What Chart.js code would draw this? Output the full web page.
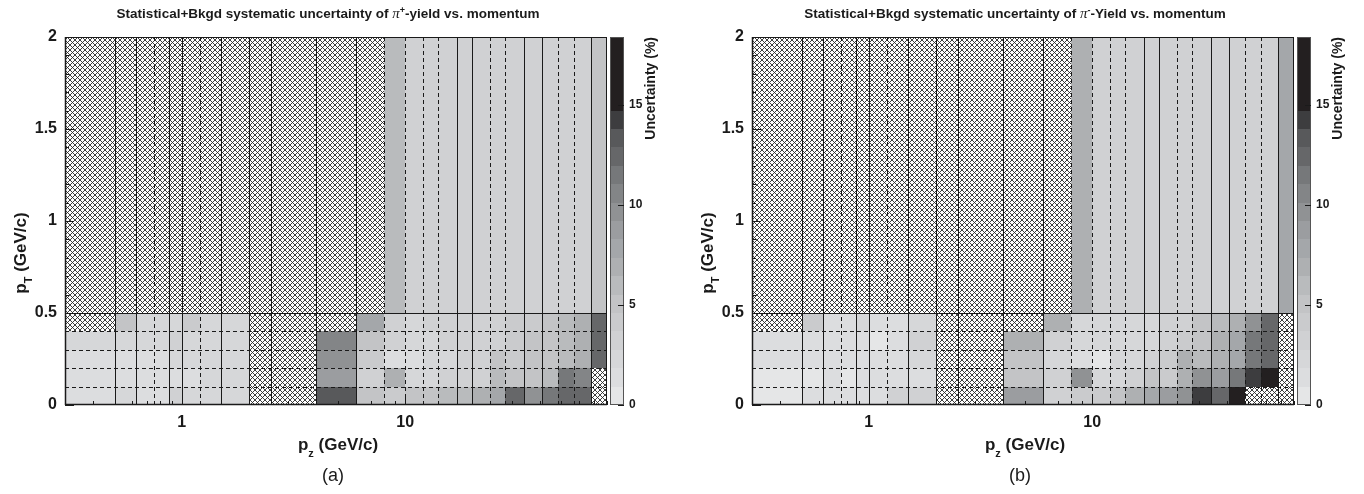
<!DOCTYPE html>
<html>
<head>
<meta charset="utf-8">
<title>Pion yield uncertainty maps</title>
<script src="https://cdn.jsdelivr.net/npm/chart.js@4.4.1/dist/chart.umd.min.js"></script>
<style>
  body { margin: 0; background: #fff; }
  .wrap { position: relative; width: 1364px; height: 494px; overflow: hidden; }
  .panel { position: absolute; top: 0; width: 676px; height: 494px; }
</style>
</head>
<body>
<div class="wrap">
  <div class="panel" style="left:0"><canvas id="plusChart"></canvas></div>
  <div class="panel" style="left:687px"><canvas id="minusChart"></canvas></div>
</div>
<script>
// -------------------------------
// BINNING + AXIS TICKS
// -------------------------------
const pzEdges = [0.3, 0.5, 0.625, 0.75, 0.875, 1.0, 1.2, 1.5, 2.0, 2.5, 4, 6, 8, 10, 12, 14, 17, 20, 24, 28, 34, 41, 48.5, 57, 68, 80];
const ptEdges = [0, 0.1, 0.2, 0.3, 0.4, 0.5, 2.0];

const pzTickLabels = [1, 10];
const pzMinorTicks = [0.4, 0.5, 0.6, 0.7, 0.8, 0.9, 2, 3, 4, 5, 6, 7, 8, 9, 20, 30, 40, 50, 60, 70, 80];
const ptTickLabels = [0, 0.5, 1, 1.5, 2];
const ptMinorTicks = [0.1, 0.2, 0.3, 0.4, 0.6, 0.7, 0.8, 0.9, 1.1, 1.2, 1.3, 1.4, 1.6, 1.7, 1.8, 1.9];
const zTickLabels = [0, 5, 10, 15];
const zMax = 18.4;

// -------------------------------
// UNCERTAINTY (%) PER BIN, rows = pT bins from 0-0.1 up to 0.5-2, null = empty bin
// -------------------------------
const n = null;
const piPlusUnc = [
    [1.3, 2.0, 1.6, 1.8, 2.8, 2.1, 2.1, 2.6, n, n, 13.0, 4.9, 4.2, 4.7, 5.1, 5.6, 6.2, 6.6, 7.6, 12.8, 9.9, 11.1, 12.6, 12.5, n],
    [1.6, 1.3, 1.3, 1.2, 1.0, 1.8, 2.0, 2.1, n, n, 8.5, 3.4, 6.5, 2.5, 2.5, 3.1, 2.9, 3.2, 6.0, 4.6, 5.4, 6.1, 11.5, 10.8, n],
    [1.6, 1.2, 1.2, 1.0, 2.3, 2.0, 2.1, 2.1, n, n, 9.8, 4.3, 1.3, 1.1, 2.6, 2.5, 3.1, 3.3, 4.7, 4.3, 5.1, 4.8, 6.0, 6.7, 12.2],
    [2.6, 2.3, 2.3, 2.2, 2.8, 2.3, 2.3, 2.3, n, n, 11.0, 5.0, 2.8, 2.5, 2.6, 2.8, 3.0, 3.1, 3.4, 3.9, 4.6, 5.3, 6.1, 6.6, 12.1],
    [n, 4.9, 2.4, 2.2, 2.6, 4.2, 2.5, 2.5, n, n, n, 7.6, 2.8, 2.6, 3.0, 2.9, 3.1, 3.0, 3.3, 3.7, 4.2, 4.8, 6.0, 6.6, 12.0],
    [n, n, n, n, n, n, n, n, n, n, n, n, 6.3, 3.2, 3.1, 3.2, 3.0, 3.1, 3.2, 3.0, 3.1, 3.2, 3.0, 3.3, 5.2]
];
const piMinusUnc = [
    [0.8, 1.5, 1.0, 1.0, 1.2, 1.1, 2.8, 3.0, n, n, 8.3, 3.4, 3.7, 4.4, 4.6, 6.8, 7.5, 8.5, 9.5, 14.2, 12.5, 17.8, n, n, n],
    [0.7, 0.6, 1.0, 0.9, 1.0, 1.0, 1.2, 1.6, n, n, 4.6, 2.9, 9.8, 2.4, 2.3, 3.0, 4.7, 3.9, 7.3, 9.9, 8.7, 11.6, 14.3, 17.5, n],
    [1.8, 1.3, 1.2, 1.1, 1.3, 1.0, 1.2, 1.9, n, n, 4.8, 2.6, 1.0, 0.9, 2.2, 2.3, 3.0, 4.4, 7.0, 6.1, 7.2, 7.9, 11.5, 12.8, n],
    [1.2, 1.2, 1.1, 1.1, 1.2, 0.9, 1.2, 2.9, n, n, 7.0, 3.3, 2.3, 2.3, 2.2, 2.3, 2.4, 3.0, 4.5, 5.4, 6.5, 7.6, 11.6, 12.8, n],
    [n, 4.0, 1.4, 1.5, 2.0, 1.3, 1.4, 2.5, n, n, n, 6.6, 2.5, 2.3, 2.3, 2.4, 2.5, 2.8, 3.3, 5.0, 6.1, 7.0, 10.0, 12.8, n],
    [n, n, n, n, n, n, n, n, n, n, n, n, 6.5, 3.2, 3.1, 3.2, 3.0, 3.1, 3.2, 3.0, 3.1, 3.2, 3.0, 3.3, 8.0]
];

// -------------------------------
// STYLE
// -------------------------------
// grey palette, one colour per contour level (0 .. zMax)
const zPalette = ["#e5e6e7","#dcdddf","#d6d7d9","#d0d1d3","#cacbcd","#c3c4c6","#b9bbbd","#aeb0b2","#a4a7aa","#9b9da0",
                  "#909294","#838587","#76787a","#666769","#58595b","#3d3d3f","#231f20","#231f20","#231f20","#231f20"];
// line style of the inner pz bin edges (true = dashed)
const edgeDashed = [false, false, true, false, false, true, false, false, false, false, false, true,
                    true, true, true, false, false, true, true, false, false, true, true, false];

const sans = '"Liberation Sans", Arial, Helvetica, sans-serif';
const serif = '"Liberation Serif", "Times New Roman", serif';
const ink = "#1a1a1a";

function colourFor(v) {
    const k = Math.min(zPalette.length - 1, Math.floor(v / (zMax / zPalette.length)));
    return zPalette[k];
}

function hatchFill(ctx) {
    const tile = document.createElement("canvas");
    tile.width = tile.height = 5;
    const g = tile.getContext("2d");
    g.fillStyle = "#fff";
    g.fillRect(0, 0, 5, 5);
    g.strokeStyle = "#2a2a2a";
    g.lineWidth = 0.9;
    g.beginPath();
    g.moveTo(-1, -1); g.lineTo(6, 6);
    g.moveTo(6, -1); g.lineTo(-1, 6);
    g.stroke();
    return ctx.createPattern(tile, "repeat");
}

// text made of several font runs (sub/superscripts)
function drawRuns(ctx, runs, x, y, align) {
    let w = 0;
    runs.forEach(r => { ctx.font = r.font; r.w = ctx.measureText(r.text).width; w += r.w; });
    let cx = align === "center" ? x - w / 2 : align === "right" ? x - w : x;
    ctx.textAlign = "left";
    ctx.textBaseline = "alphabetic";
    runs.forEach(r => { ctx.font = r.font; ctx.fillText(r.text, cx, y + (r.dy || 0)); cx += r.w; });
}

function line(ctx, x0, y0, x1, y1) {
    ctx.beginPath(); ctx.moveTo(x0, y0); ctx.lineTo(x1, y1); ctx.stroke();
}

// -------------------------------
// 2D HISTOGRAM PLUGIN
// -------------------------------
const hist2d = {
    id: "hist2d",
    beforeDatasetsDraw(chart, args, opts) {
        const { ctx, chartArea: a } = chart;
        const { x, y, z } = chart.scales;
        ctx.save();

        // empty bins show the hatched background
        ctx.fillStyle = hatchFill(ctx);
        ctx.fillRect(a.left, a.top, a.right - a.left, a.bottom - a.top);

        opts.cells.forEach((row, j) => {
            const yTop = Math.round(y.getPixelForValue(ptEdges[j + 1]));
            const yBot = Math.round(y.getPixelForValue(ptEdges[j]));
            row.forEach((v, i) => {
                if (v === null) return;
                const x0 = Math.round(x.getPixelForValue(pzEdges[i]));
                const x1 = Math.round(x.getPixelForValue(pzEdges[i + 1]));
                ctx.fillStyle = colourFor(v);
                ctx.fillRect(x0, yTop, x1 - x0, yBot - yTop);
            });
        });

        // bin edges
        ctx.strokeStyle = ink;
        ctx.lineWidth = 1;
        pzEdges.slice(1, -1).forEach((e, k) => {
            const px = Math.round(x.getPixelForValue(e)) + 0.5;
            ctx.setLineDash(edgeDashed[k] ? [4, 3] : []);
            line(ctx, px, a.top, px, a.bottom);
        });
        ptEdges.slice(1, -1).forEach(e => {
            const py = Math.round(y.getPixelForValue(e)) + 0.5;
            ctx.setLineDash(e < 0.5 ? [4, 3] : []);
            line(ctx, a.left, py, a.right, py);
        });
        ctx.setLineDash([]);

        // frame
        ctx.strokeRect(a.left + 0.5, a.top + 0.5, a.right - a.left - 1, a.bottom - a.top - 1);
        ctx.lineWidth = 1.5;
        line(ctx, a.left, a.bottom - 0.5, a.right, a.bottom - 0.5);
        line(ctx, a.left + 0.5, a.top, a.left + 0.5, a.bottom);

        // inward ticks
        ctx.lineWidth = 1;
        pzMinorTicks.forEach(v => {
            const px = Math.round(x.getPixelForValue(v)) + 0.5;
            line(ctx, px, a.bottom, px, a.bottom - 4);
        });
        pzTickLabels.forEach(v => {
            const px = Math.round(x.getPixelForValue(v)) + 0.5;
            line(ctx, px, a.bottom, px, a.bottom - 9);
        });
        ptMinorTicks.forEach(v => {
            const py = Math.round(y.getPixelForValue(v)) + 0.5;
            line(ctx, a.left, py, a.left + 4, py);
        });
        ptTickLabels.forEach(v => {
            const py = Math.round(y.getPixelForValue(v)) + 0.5;
            line(ctx, a.left, py, a.left + 9, py);
        });

        // colour bar
        const bx0 = Math.round(a.right) + 3, bx1 = bx0 + 14;
        const step = zMax / zPalette.length;
        zPalette.forEach((c, k) => {
            const yA = Math.round(z.getPixelForValue(k * step));
            const yB = Math.round(z.getPixelForValue((k + 1) * step));
            ctx.fillStyle = c;
            ctx.fillRect(bx0, yB, bx1 - bx0, yA - yB);
        });
        ctx.strokeStyle = "#555";
        ctx.strokeRect(bx0 + 0.5, z.top + 0.5, bx1 - bx0 - 1, z.bottom - z.top - 1);
        ctx.strokeStyle = ink;
        zTickLabels.forEach(v => {
            const py = Math.round(z.getPixelForValue(v)) + 0.5;
            line(ctx, bx1 - 6, py, bx1, py);
        });
        ctx.restore();
    },
    afterDraw(chart, args, opts) {
        const { ctx, chartArea: a } = chart;
        ctx.save();
        ctx.fillStyle = ink;
        const mid = (a.left + a.right) / 2;

        // title
        drawRuns(ctx, [
            { text: "Statistical+Bkgd systematic uncertainty of ", font: `bold 13.5px ${sans}` },
            { text: "\u03c0", font: `italic 15px ${serif}` },
            { text: opts.charge, font: `bold 9px ${sans}`, dy: -5 },
            { text: opts.tail, font: `bold 13.5px ${sans}` }
        ], mid - 8, 18, "center");

        // p_z axis title
        drawRuns(ctx, [
            { text: "p", font: `bold 17px ${sans}` },
            { text: "z", font: `bold 11px ${sans}`, dy: 7 },
            { text: " (GeV/c)", font: `bold 17px ${sans}` }
        ], mid + 2, 450, "center");

        // panel tag
        ctx.font = `18px ${sans}`;
        ctx.textAlign = "center";
        ctx.fillText(opts.tag, mid - 3, 481);

        // p_T axis title
        ctx.save();
        ctx.translate(26, (a.top + a.bottom) / 2 + 32);
        ctx.rotate(-Math.PI / 2);
        drawRuns(ctx, [
            { text: "p", font: `bold 17px ${sans}` },
            { text: "T", font: `bold 11px ${sans}`, dy: 6 },
            { text: " (GeV/c)", font: `bold 17px ${sans}` }
        ], 0, 0, "center");
        ctx.restore();

        // colour bar title
        ctx.save();
        ctx.translate(a.right + 48, a.top);
        ctx.rotate(-Math.PI / 2);
        drawRuns(ctx, [{ text: "Uncertainty (%)", font: `bold 14px ${sans}` }], 0, 0, "right");
        ctx.restore();
        ctx.restore();
    }
};

// -------------------------------
// BUILD ONE PANEL
// -------------------------------
function buildPanel(canvasId, cells, charge, tail, tag) {
    const tickFont = { family: sans, size: 16, weight: "bold" };
    return new Chart(document.getElementById(canvasId), {
        type: "scatter",
        data: { datasets: [{ data: [] }] },
        plugins: [hist2d],
        options: {
            responsive: true,
            maintainAspectRatio: false,
            animation: false,
            layout: { padding: { top: 37, left: 0, right: 0, bottom: 0 } },
            scales: {
                x: {
                    type: "logarithmic",
                    min: 0.3,
                    max: 80,
                    grid: { display: false, drawTicks: false },
                    border: { display: false },
                    afterBuildTicks: s => { s.ticks = pzTickLabels.map(v => ({ value: v })); },
                    afterFit: s => { s.height = 89; },
                    ticks: { font: tickFont, color: ink, padding: 8, maxRotation: 0, callback: v => String(v) }
                },
                y: {
                    type: "linear",
                    min: 0,
                    max: 2,
                    grid: { display: false, drawTicks: false },
                    border: { display: false },
                    afterBuildTicks: s => { s.ticks = ptTickLabels.map(v => ({ value: v })); },
                    afterFit: s => { s.width = 65; },
                    ticks: { font: tickFont, color: ink, padding: 8, callback: v => String(v) }
                },
                z: {
                    type: "linear",
                    axis: "y",
                    position: "right",
                    min: 0,
                    max: zMax,
                    grid: { display: false, drawTicks: false },
                    border: { display: false },
                    afterBuildTicks: s => { s.ticks = zTickLabels.map(v => ({ value: v })); },
                    afterFit: s => { s.width = 69; },
                    ticks: { font: { family: sans, size: 12, weight: "bold" }, color: ink, padding: 22, callback: v => String(v) }
                }
            },
            plugins: {
                legend: { display: false },
                tooltip: { enabled: false },
                title: { display: false },
                hist2d: { cells: cells, charge: charge, tail: tail, tag: tag }
            }
        }
    });
}

buildPanel("plusChart", piPlusUnc, "+", "-yield vs. momentum", "(a)");
buildPanel("minusChart", piMinusUnc, "-", "-Yield vs. momentum", "(b)");
</script>
</body>
</html>
